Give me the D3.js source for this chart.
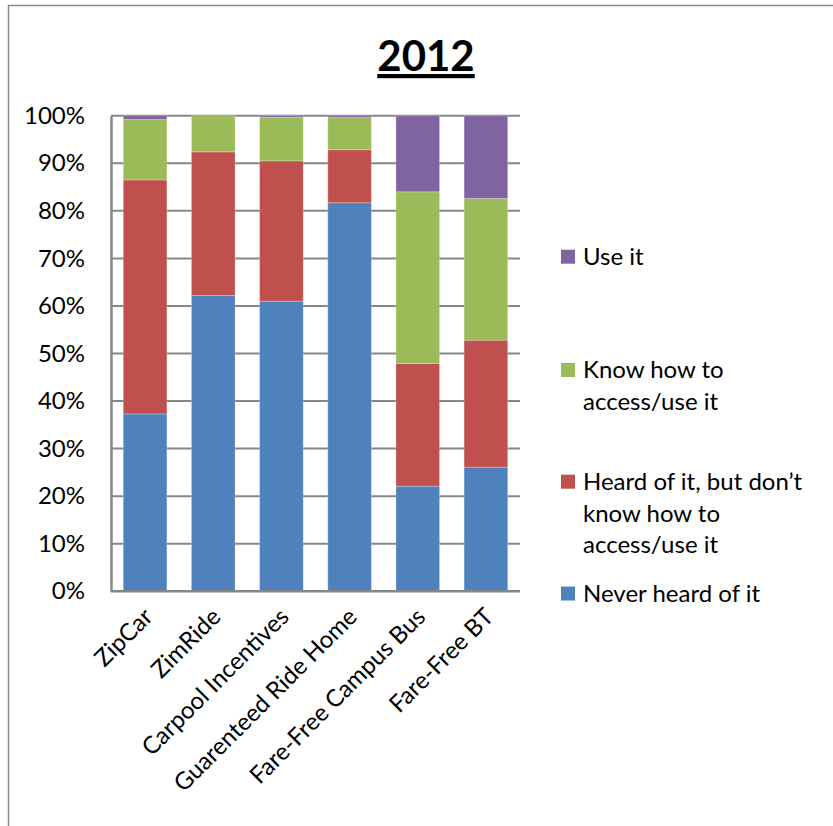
<!DOCTYPE html>
<html><head><meta charset="utf-8">
<script src="https://cdn.jsdelivr.net/npm/d3@7"></script>
<style>body{margin:0;background:#fff}svg{display:block}</style>
</head><body>
<svg id="c" width="833" height="826"></svg>
<script>
const categories = ["ZipCar","ZimRide","Carpool Incentives","Guarenteed Ride Home","Fare-Free Campus Bus","Fare-Free BT"];
const seriesNames = ["Never heard of it","Heard of it, but don\u2019t know how to access/use it","Know how to access/use it","Use it"];
const neverHeard = [37.3, 62.2, 61.0, 81.7, 22.1, 26.1];
const heardNotKnow = [49.2, 30.2, 29.5, 11.15, 25.8, 26.7];
const knowHow = [12.7, 7.6, 9.15, 6.75, 36.1, 29.8];
const useIt = [0.8, 0.0, 0.35, 0.4, 16.0, 17.4];
const yTicks = [0,10,20,30,40,50,60,70,80,90,100];
const colors = ["#4F81BD","#C0504D","#9BBB59","#8064A2"];
const legendLines = [["Never heard of it"],["Heard of it, but don\u2019t","know how to","access/use it"],["Know how to","access/use it"],["Use it"]];

const font = "Lato, 'Open Sans', sans-serif";
const svg = d3.select("#c");
const m = {l:111, r:520, t:115.7, b:591.3};

// chart border
svg.append("path").attr("d","M8.5,826 V5.5 H833").attr("fill","none").attr("stroke","#8a8a8a").attr("stroke-width",1.5);

const x = d3.scaleBand().domain(categories).range([m.l, m.r]).paddingInner(0.36).paddingOuter(0.18);
const y = d3.scaleLinear().domain([0,100]).range([m.b, m.t]);

// gridlines
svg.append("g").selectAll("line").data(yTicks.filter(d=>d>0)).join("line")
  .attr("x1", m.l).attr("x2", m.r).attr("y1", d=>y(d)).attr("y2", d=>y(d))
  .attr("stroke","#868686").attr("stroke-width",2);

const rows = categories.map((c,i)=>({cat:c, s0:neverHeard[i], s1:heardNotKnow[i], s2:knowHow[i], s3:useIt[i]}));
const stack = d3.stack().keys(["s0","s1","s2","s3"])(rows);
svg.append("g").selectAll("g").data(stack).join("g").attr("fill",(d,i)=>colors[i])
  .selectAll("rect").data(d=>d).join("rect")
  .attr("x", d=>x(d.data.cat)).attr("width", x.bandwidth())
  .attr("y", d=>y(d[1])).attr("height", d=>Math.max(0, y(d[0])-y(d[1])))
  .attr("stroke","rgba(255,255,255,0.25)").attr("stroke-width",1);

// axes
const ya = svg.append("g").attr("transform",`translate(${m.l},0)`)
  .call(d3.axisLeft(y).tickValues(yTicks).tickFormat(d=>d+"%").tickSize(0).tickPadding(26));
ya.select(".domain").attr("stroke","#868686").attr("stroke-width",2.5);
ya.selectAll("text").attr("font-family",font).attr("font-size",24).attr("fill","#000");
svg.append("line").attr("x1",m.l).attr("x2",m.r).attr("y1",m.b).attr("y2",m.b).attr("stroke","#868686").attr("stroke-width",2.5);

const xa = svg.append("g").attr("transform",`translate(0,${m.b})`)
  .call(d3.axisBottom(x).tickSize(0).tickFormat(d=>d));
xa.select(".domain").remove();
xa.selectAll("text").attr("font-family",font).attr("font-size",24).attr("fill","#000")
  .attr("text-anchor","end").attr("dy",0)
  .attr("transform","translate(9,27) rotate(-45)").attr("y",0).attr("x",0);

// title
svg.append("text").attr("x",426).attr("y",71).attr("text-anchor","middle")
  .attr("font-family",font).attr("font-weight","bold").attr("font-size",42)
  .attr("text-decoration","underline").text("2012");

// legend
const legY = [593.5, 481.7, 370, 256.7];
const lg = svg.append("g");
seriesNames.forEach((n,i)=>{
  const g = lg.append("g").attr("transform",`translate(561,${legY[i]})`);
  g.append("rect").attr("x",0).attr("y",-7).attr("width",14).attr("height",14).attr("fill",colors[i]);
  const t = g.append("text").attr("font-family",font).attr("font-size",24).attr("fill","#000");
  legendLines[i].forEach((ln,j)=>t.append("tspan").attr("x",22).attr("y",j*31.7).attr("dy","0.35em").text(ln));
});
</script>
</body></html>
